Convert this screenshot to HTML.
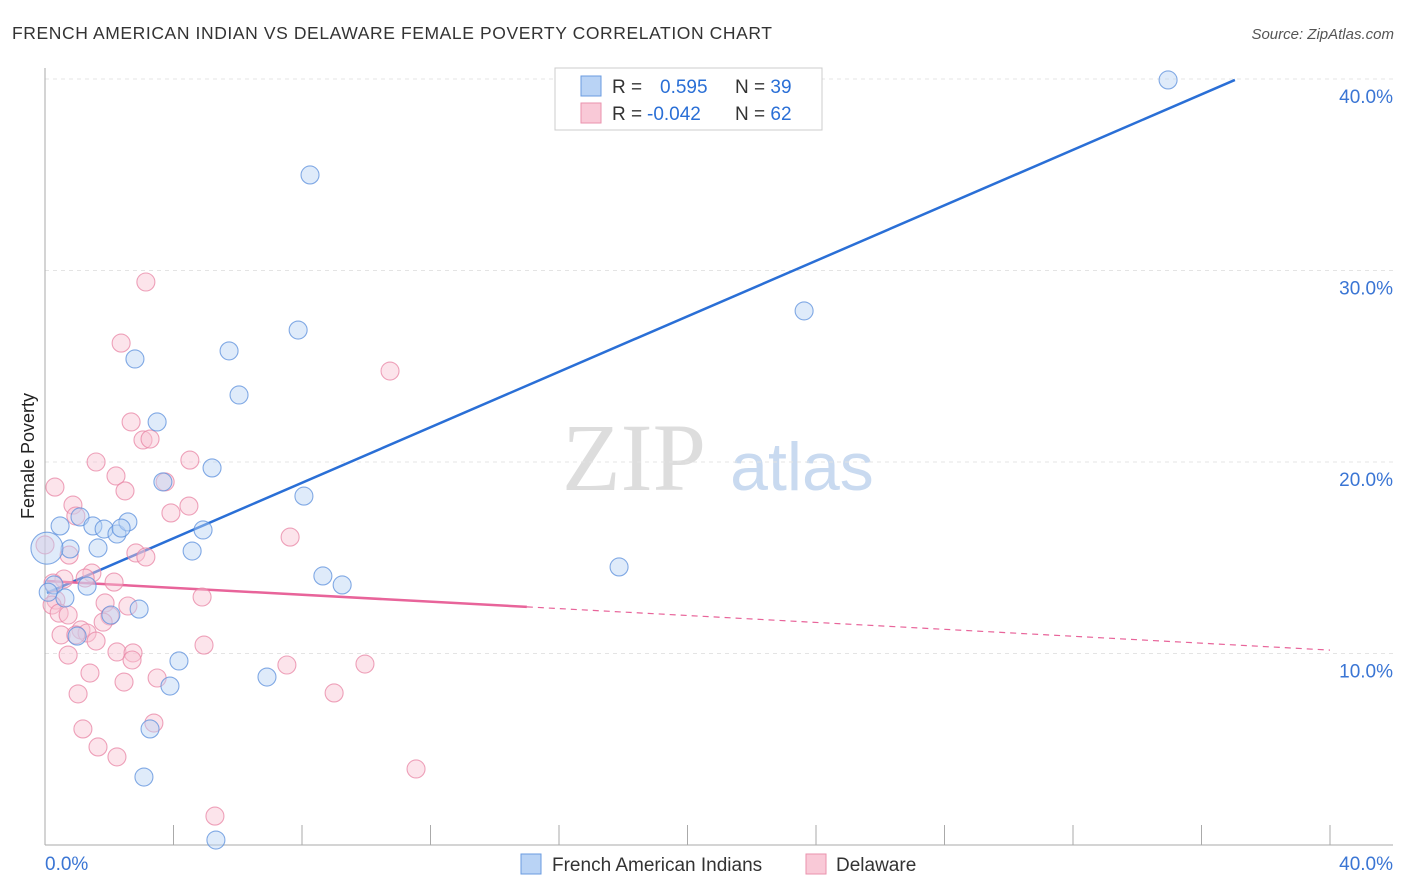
<!DOCTYPE html>
<html><head><meta charset="utf-8"><style>
body{margin:0;background:#fff;font-family:"Liberation Sans",sans-serif;}
svg{display:block}
</style></head><body>
<svg id="chart" width="1406" height="892" xmlns="http://www.w3.org/2000/svg">
<text x="12" y="39" font-size="17.5" fill="#333" textLength="760">FRENCH AMERICAN INDIAN VS DELAWARE FEMALE POVERTY CORRELATION CHART</text>
<text x="1394" y="39" font-size="15" fill="#555" font-style="italic" text-anchor="end">Source: ZipAtlas.com</text>
<text x="634" y="490" font-size="96" fill="#ddd" font-family="Liberation Serif,serif" text-anchor="middle">ZIP</text>
<text x="802" y="490" font-size="68" fill="#c9daf0" text-anchor="middle">atlas</text>
<text transform="translate(34,456) rotate(-90)" font-size="18" fill="#222" text-anchor="middle">Female Poverty</text>
<g id="grid"></g><g id="axes"></g><g id="lines"></g><g id="pts"></g>
<g>
<rect x="555" y="68" width="267" height="62" fill="#fff" stroke="#ccc"/>
<rect x="581" y="76" width="20" height="20" fill="#b9d3f5" stroke="#6a9be0"/>
<rect x="581" y="103" width="20" height="20" fill="#f9c9d7" stroke="#ea92ad"/>
<text x="612" y="93" font-size="19" fill="#333">R = <tspan fill="#2a6fd6" x="660">0.595</tspan><tspan x="735" fill="#333">N = </tspan><tspan fill="#2a6fd6">39</tspan></text>
<text x="612" y="120" font-size="19" fill="#333">R = <tspan fill="#2a6fd6" x="647">-0.042</tspan><tspan x="735" fill="#333">N = </tspan><tspan fill="#2a6fd6">62</tspan></text>
</g>
<g>
<rect x="521" y="854" width="20" height="20" fill="#b9d3f5" stroke="#6a9be0"/>
<text x="552" y="871" font-size="19" fill="#333">French American Indians</text>
<rect x="806" y="854" width="20" height="20" fill="#f9c9d7" stroke="#ea92ad"/>
<text x="836" y="871" font-size="19" fill="#333">Delaware</text>
</g>
</svg>
<script>
const yTicks=[10,20,30,40];
const yTickLabels=["10.0%","20.0%","30.0%","40.0%"];
const xTicks=[0,4,8,12,16,20,24,28,32,36,40];
const blueX=[34.96,8.25,23.63,7.88,5.73,2.80,6.04,3.49,5.20,3.67,8.06,1.09,0.47,1.49,1.84,2.24,2.58,2.37,4.92,0.78,1.65,4.58,0.06,17.87,8.65,9.25,0.28,1.31,0.62,2.93,2.05,1.00,4.17,6.91,3.89,3.27,3.08,5.32,0.1];
const blueY=[39.95,34.99,27.89,26.89,25.80,25.38,23.50,22.09,19.69,18.96,18.22,17.13,16.66,16.66,16.50,16.24,16.87,16.55,16.45,15.46,15.51,15.35,15.5,14.52,14.05,13.58,13.58,13.52,12.90,12.32,12.01,10.91,9.61,8.77,8.30,6.06,3.55,0.26,13.2];
const pinkX=[3.14,2.37,10.74,2.68,3.05,3.27,4.51,1.59,2.21,0.31,2.49,3.74,0.87,4.48,3.92,0.96,7.63,0,0.75,2.83,3.14,1.46,1.25,0.59,2.15,0.25,4.89,0.34,1.87,2.58,0.22,0.44,0.72,2.02,1.81,1.12,1.31,0.50,0.96,1.59,2.24,2.74,2.71,4.95,0.72,7.53,9.96,1.40,2.46,3.49,1.03,9.00,1.18,3.39,1.65,2.24,11.55,5.29];
const pinkY=[29.40,26.21,24.75,22.09,21.15,21.20,20.10,20.00,19.27,18.69,18.49,18.96,17.75,17.70,17.34,17.18,16.08,15.67,15.14,15.25,15.04,14.20,13.94,13.89,13.73,13.68,12.95,12.79,12.64,12.48,12.53,12.11,12.01,11.96,11.64,11.23,11.07,10.97,10.97,10.65,10.08,10.03,9.66,10.44,9.92,9.40,9.45,8.98,8.51,8.72,7.89,7.94,6.06,6.37,5.12,4.60,3.97,1.51];
const blueFit=[13.12,0.7244,0.06,37.04];
const pinkFit=[13.79,-0.0903,0.06,15.0,40];
const X=v=>45+v*1285/40, Y=v=>845-v*19.15;
const NS="http://www.w3.org/2000/svg";
function mk(p,t,a){const e=document.createElementNS(NS,t);for(const k in a)e.setAttribute(k,a[k]);document.getElementById(p).appendChild(e);return e;}
yTicks.forEach((t,i)=>{
 const g=mk('grid','line',{x1:45,x2:1393,y1:Y(t),y2:Y(t),stroke:'#e4e4e4','stroke-dasharray':'4 4'});
 
 
 const l=mk('grid','text',{x:1393,y:Y(t)+24,'font-size':19,fill:'#3a75d4','text-anchor':'end'});l.textContent=yTickLabels[i];
 
 
});
mk('axes','line',{x1:45,x2:45,y1:68,y2:845,stroke:'#aaa'});
mk('axes','line',{x1:45,x2:1393,y1:845,y2:845,stroke:'#aaa'});
xTicks.forEach(t=>{const e=mk('axes','line',{x1:X(t),x2:X(t),y1:825,y2:845,stroke:'#aaa'});
 
 });
let a=mk('axes','text',{x:45,y:870,'font-size':19,fill:'#3a75d4'});a.textContent='0.0%';


a=mk('axes','text',{x:1393,y:870,'font-size':19,fill:'#3a75d4','text-anchor':'end'});a.textContent='40.0%';


function dot(x,y,c,s,r,name){const e=mk('pts','circle',{cx:X(x),cy:Y(y),r:r,fill:c,'fill-opacity':0.45,stroke:s,'stroke-width':1.1,'stroke-opacity':0.75});
 
 }
pinkX.forEach((x,i)=>dot(x,pinkY[i],'#f9c3d3','#e884a4',9,'delaware-point'));
blueX.forEach((x,i)=>dot(x,blueY[i],'#b9d3f5','#5b8fdc',i==22?16:9,'french-american-indian-point'));
let ln=mk('lines','line',{x1:X(blueFit[2]),y1:Y(blueFit[0]+blueFit[1]*blueFit[2]),x2:X(blueFit[3]),y2:Y(blueFit[0]+blueFit[1]*blueFit[3]),stroke:'#2a6fd6','stroke-width':2.5});


ln=mk('lines','line',{x1:X(pinkFit[2]),y1:Y(pinkFit[0]+pinkFit[1]*pinkFit[2]),x2:X(pinkFit[3]),y2:Y(pinkFit[0]+pinkFit[1]*pinkFit[3]),stroke:'#e8649a','stroke-width':2.5});


ln=mk('lines','line',{x1:X(pinkFit[3]),y1:Y(pinkFit[0]+pinkFit[1]*pinkFit[3]),x2:X(pinkFit[4]),y2:Y(pinkFit[0]+pinkFit[1]*pinkFit[4]),stroke:'#e8649a','stroke-width':1.2,'stroke-dasharray':'6 5'});


</script>
</body></html>
